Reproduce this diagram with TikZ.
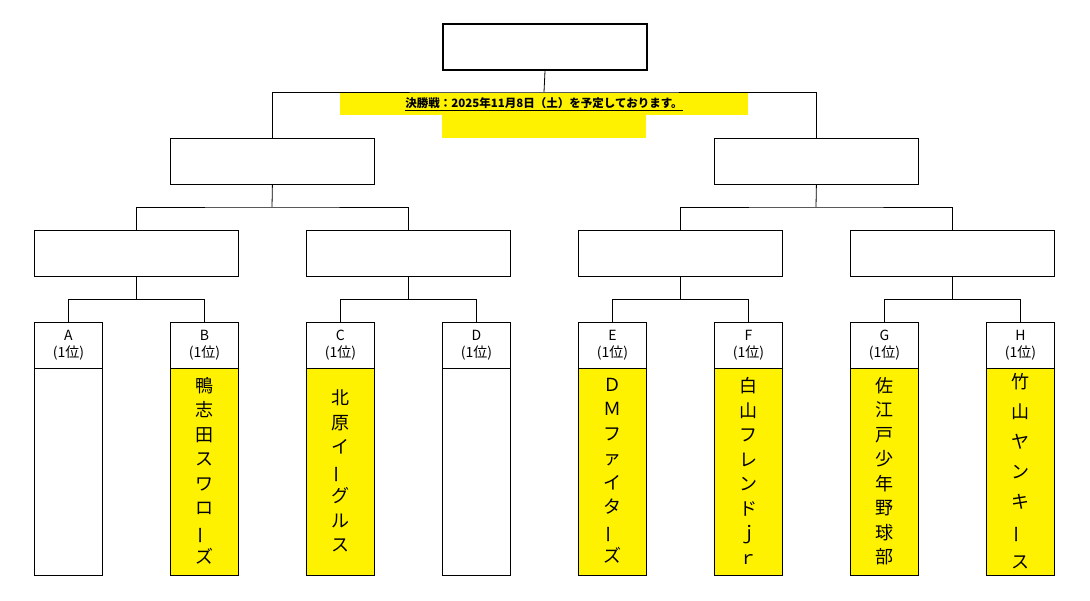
\documentclass[tikz,border=0pt]{standalone}
\usepackage{fontspec}
\usepackage{graphicx}
\usetikzlibrary{calc}
\setmainfont{Noto Sans CJK JP}
\newcommand{\vbar}{\rotatebox[origin=c]{90}{ー}}
\begin{document}
\begin{tikzpicture}[x=1pt,y=-1pt,
  box/.style={draw,line width=0.8pt,minimum width=204pt,minimum height=46pt,inner sep=0pt,anchor=north west},
  head/.style={draw,line width=0.8pt,minimum width=68pt,minimum height=46pt,inner sep=0pt,anchor=north west,align=center,font=\fontsize{14}{17}\selectfont},
  body/.style={minimum width=68pt,minimum height=207pt,inner sep=0pt,anchor=north west},
  team/.style={align=center,font=\fontsize{18}{24.5}\selectfont},
  wire/.style={line width=0.8pt}]
\useasboundingbox (0,0) rectangle (1090,600);
% yellow bands
\fill[yellow] (340,93) rectangle (748,115);
\fill[yellow] (442,115) rectangle (646,138);
\node[font=\bfseries\fontsize{11.5}{13}\selectfont] (ttl) at (544,104) {\underline{決勝戦：2025年11月8日（土）を予定しております。}};
% final
\node[box,line width=2pt] (F) at (442,23) {};
\node[box] (S1) at (170,138) {};
\node[box] (S2) at (714,138) {};
\coordinate (fj) at (544,92);
\draw[wire] (F.south) -- (fj);
\draw[wire] (S1.north) |- (fj) -| (S2.north);
\node[box] (Q1) at (34,230) {};
\node[box] (Q2) at (306,230) {};
\node[box] (Q3) at (578,230) {};
\node[box] (Q4) at (850,230) {};
\coordinate (s1j) at (272,207);
\coordinate (s2j) at (816,207);
\draw[wire] (S1.south) -- (s1j); \draw[wire] (Q1.north) |- (s1j) -| (Q2.north);
\draw[wire] (S2.south) -- (s2j); \draw[wire] (Q3.north) |- (s2j) -| (Q4.north);
% teams
\foreach \n/\x in {A/34,B/170,C/306,D/442,E/578,F/714,G/850,H/986}{
  \node[head] (h\n) at (\x,322) {\n\\(1位)};
  \node[body] (b\n) at (\x,368) {};
}
\foreach \n in {B,C,E,F,G,H}{\fill[yellow] (b\n.north west) rectangle (b\n.south east);}
\foreach \n in {A,B,C,D,E,F,G,H}{
  \draw[line width=0.8pt] (b\n.north west) rectangle (b\n.south east);
}
\foreach \q/\a/\b in {1/A/B,2/C/D,3/E/F,4/G/H}{
  \coordinate (qj\q) at ($(Q\q.south)+(0,23)$);
  \draw[wire] (Q\q.south) -- (qj\q);
  \draw[wire] (h\a.north) |- (qj\q) -| (h\b.north);
}
\node[team] (tB) at (204,471) {鴨\\志\\田\\ス\\ワ\\ロ\\\vbar\\ズ};
\node[team] (tC) at (340,471) {北\\原\\イ\\\vbar\\グ\\ル\\ス};
\node[team] (tE) at (612,471) {Ｄ\\Ｍ\\フ\\ァ\\イ\\タ\\\vbar\\ズ};
\node[team] (tF) at (748,471) {白\\山\\フ\\レ\\ン\\ド\\ｊ\\ｒ};
\node[team] (tG) at (884,471) {佐\\江\\戸\\少\\年\\野\\球\\部};
\node[team,font=\fontsize{18}{30}\selectfont] (tH) at (1020,471) {竹\\山\\ヤ\\ン\\キ\\\vbar\\ス};
\end{tikzpicture}
\end{document}
